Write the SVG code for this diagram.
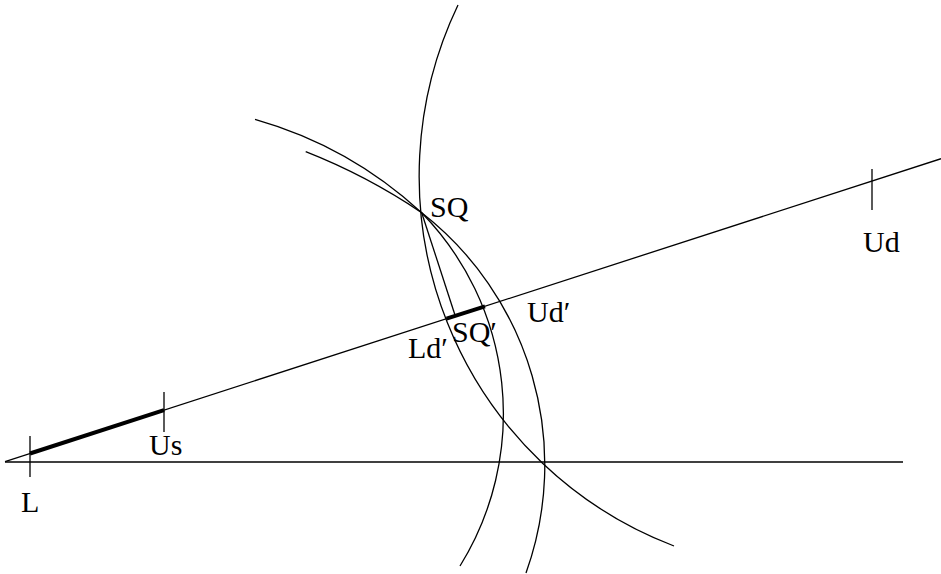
<svg xmlns="http://www.w3.org/2000/svg" width="941" height="574" viewBox="0 0 941 574">
<style>
.ln{fill:none;stroke:#000;stroke-width:1.3}
.bold{fill:none;stroke:#000;stroke-width:4}
.lbl{font-family:"Liberation Serif","Times New Roman",serif;font-size:30px;fill:#000}
</style>
<rect width="941" height="574" fill="#fff"/>
<g id="connectors">
  <line id="axis-horizontal" class="ln" x1="5" y1="462" x2="903" y2="462"/>
  <line id="axis-slope" class="ln" x1="5" y1="461.6" x2="941" y2="158.7"/>
  <path id="arc-top" class="ln" d="M458,5 A396,396 0 0 0 674,546"/>
  <path id="arc-upper-left" class="ln" d="M255,119.3 A412.5,412.5 0 0 1 421.7,212.7 A288.5,288.5 0 0 1 460,566"/>
  <path id="arc-lower-left" class="ln" d="M305.7,151.7 A600,600 0 0 1 421.7,212.7 A320,320 0 0 1 526,573"/>
  <line id="perpendicular" class="ln" x1="421.7" y1="212.7" x2="455.3" y2="316"/>
  <line id="bold-L-Us" class="bold" x1="30" y1="453.5" x2="164" y2="410.2"/>
  <line id="bold-Ld-Ud" class="bold" x1="446.5" y1="318.7" x2="485" y2="306.3"/>
</g>
<g id="node-L">
  <line class="ln" x1="30" y1="436" x2="30" y2="477"/>
  <text class="lbl" x="21" y="512">L</text>
</g>
<g id="node-Us">
  <line class="ln" x1="164" y1="392" x2="164" y2="432"/>
  <text class="lbl" x="149" y="455">Us</text>
</g>
<g id="node-Ud">
  <line class="ln" x1="872" y1="169" x2="872" y2="210"/>
  <text class="lbl" x="863" y="252">Ud</text>
</g>
<g id="node-SQ">
  <text class="lbl" x="430" y="217">SQ</text>
</g>
<g id="node-Ld-prime">
  <text class="lbl" x="408" y="358">Ld′</text>
</g>
<g id="node-SQ-prime">
  <text class="lbl" x="452" y="342">SQ′</text>
</g>
<g id="node-Ud-prime">
  <text class="lbl" x="527" y="322">Ud′</text>
</g>
</svg>
